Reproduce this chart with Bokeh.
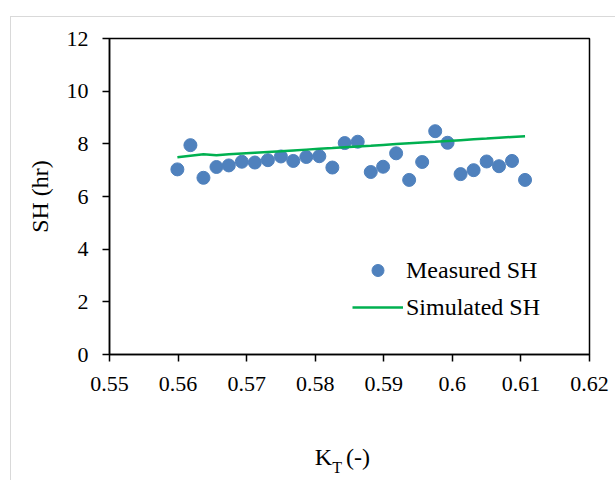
from bokeh.plotting import figure
from bokeh.models import (Range1d, FixedTicker, PrintfTickFormatter, Legend, LegendItem,
                          LinearAxis, CustomJSTickFormatter)
from bokeh.embed import file_html
from bokeh.resources import INLINE

# Data
kt = [0.5599, 0.5618, 0.5637, 0.5656, 0.5674, 0.5693, 0.5712, 0.5731, 0.5750, 0.5768,
      0.5787, 0.5806, 0.5825, 0.5843, 0.5862, 0.5881, 0.5899, 0.5918, 0.5937, 0.5956,
      0.5975, 0.5993, 0.6012, 0.6031, 0.6050, 0.6068, 0.6087, 0.6106]
measured_sh = [7.03, 7.95, 6.71, 7.12, 7.18, 7.32, 7.29, 7.38, 7.52, 7.35,
               7.50, 7.53, 7.10, 8.03, 8.08, 6.93, 7.13, 7.64, 6.63, 7.31,
               8.48, 8.04, 6.85, 7.00, 7.33, 7.15, 7.35, 6.63]
simulated_sh = [7.49, 7.55, 7.60, 7.57, 7.60, 7.63, 7.66, 7.69, 7.72, 7.75,
                7.78, 7.81, 7.84, 7.87, 7.90, 7.93, 7.96, 7.99, 8.02, 8.05,
                8.08, 8.11, 8.14, 8.17, 8.20, 8.23, 8.26, 8.29]
x_ticks = [0.55, 0.56, 0.57, 0.58, 0.59, 0.60, 0.61, 0.62]
y_ticks = [0, 2, 4, 6, 8, 10, 12]
x_title_main = ["K", "(-)"]
x_title_sub = ["T"]

FONT = "Liberation Serif"
FS_TICK = "22px"
FS = "24px"

p = figure(width=605, height=464, output_backend="svg", toolbar_location=None,
           x_range=Range1d(0.55, 0.62), y_range=Range1d(0, 12),
           min_border_left=98, min_border_right=27, min_border_top=21, min_border_bottom=127)
p.styles = {"margin-left": "11px", "margin-top": "17px", "margin-bottom": "-24px",
            "box-shadow": "-1px -1px 0px 0px #d9d9d9"}

p.xgrid.visible = False
p.ygrid.visible = False
p.outline_line_color = "black"
p.outline_line_width = 1.5
p.background_fill_color = "white"
p.border_fill_color = "white"

for ax in (p.xaxis[0], p.yaxis[0]):
    ax.axis_line_color = "black"
    ax.axis_line_width = 1.5
    ax.major_tick_line_color = "black"
    ax.major_tick_line_width = 1.5
    ax.major_tick_out = 7
    ax.major_tick_in = 0
    ax.minor_tick_line_color = None
    ax.major_label_text_font = FONT
    ax.major_label_text_font_size = FS_TICK
    ax.major_label_text_color = "black"
    ax.axis_label_text_font = FONT
    ax.axis_label_text_font_size = FS
    ax.axis_label_text_font_style = "normal"
    ax.axis_label_text_color = "black"

p.xaxis[0].ticker = FixedTicker(ticks=x_ticks)
p.xaxis[0].formatter = PrintfTickFormatter(format="%g")
p.xaxis[0].major_label_standoff = 15
p.yaxis[0].ticker = FixedTicker(ticks=y_ticks)
p.yaxis[0].major_label_standoff = 14
p.yaxis[0].axis_label = "SH (hr)"
p.yaxis[0].axis_label_standoff = 11

sc = p.scatter(kt, measured_sh, size=13, fill_color="#4F81BD", line_color="#4F81BD")
ln = p.line(kt, simulated_sh, line_color="#00B050", line_width=2.5)

legend = Legend(items=[LegendItem(label="Measured SH", renderers=[sc]),
                       LegendItem(label="Simulated SH", renderers=[ln])],
                location=(243, 32), glyph_width=51, glyph_height=30, label_height=30,
                label_standoff=3, spacing=7, padding=0, margin=0,
                border_line_color=None, background_fill_alpha=0,
                label_text_font=FONT, label_text_font_size=FS, label_text_color="black")
p.add_layout(legend, "center")


# x-axis title "K_T (-)": two extra text-only axes (main letters, then subscript)
def title_axis(labels, positions, size, standoff):
    a = LinearAxis(ticker=FixedTicker(ticks=positions),
                   formatter=CustomJSTickFormatter(args=dict(labels=labels),
                                                   code="return labels[index]"))
    a.axis_line_color = None
    a.major_tick_line_color = None
    a.minor_tick_line_color = None
    a.major_tick_out = 0
    a.major_tick_in = 0
    a.minor_tick_out = 0
    a.minor_tick_in = 0
    a.major_label_standoff = standoff
    a.major_label_text_font = FONT
    a.major_label_text_font_size = size
    a.major_label_text_color = "black"
    return a


ax_k = title_axis(x_title_main, [0.58121, 0.58624], FS, 50)
ax_t = title_axis(x_title_sub, [0.58321], "16px", -14)
p.add_layout(ax_k, "below")
p.add_layout(ax_t, "below")

open("out.html", "w").write(file_html(p, INLINE))
